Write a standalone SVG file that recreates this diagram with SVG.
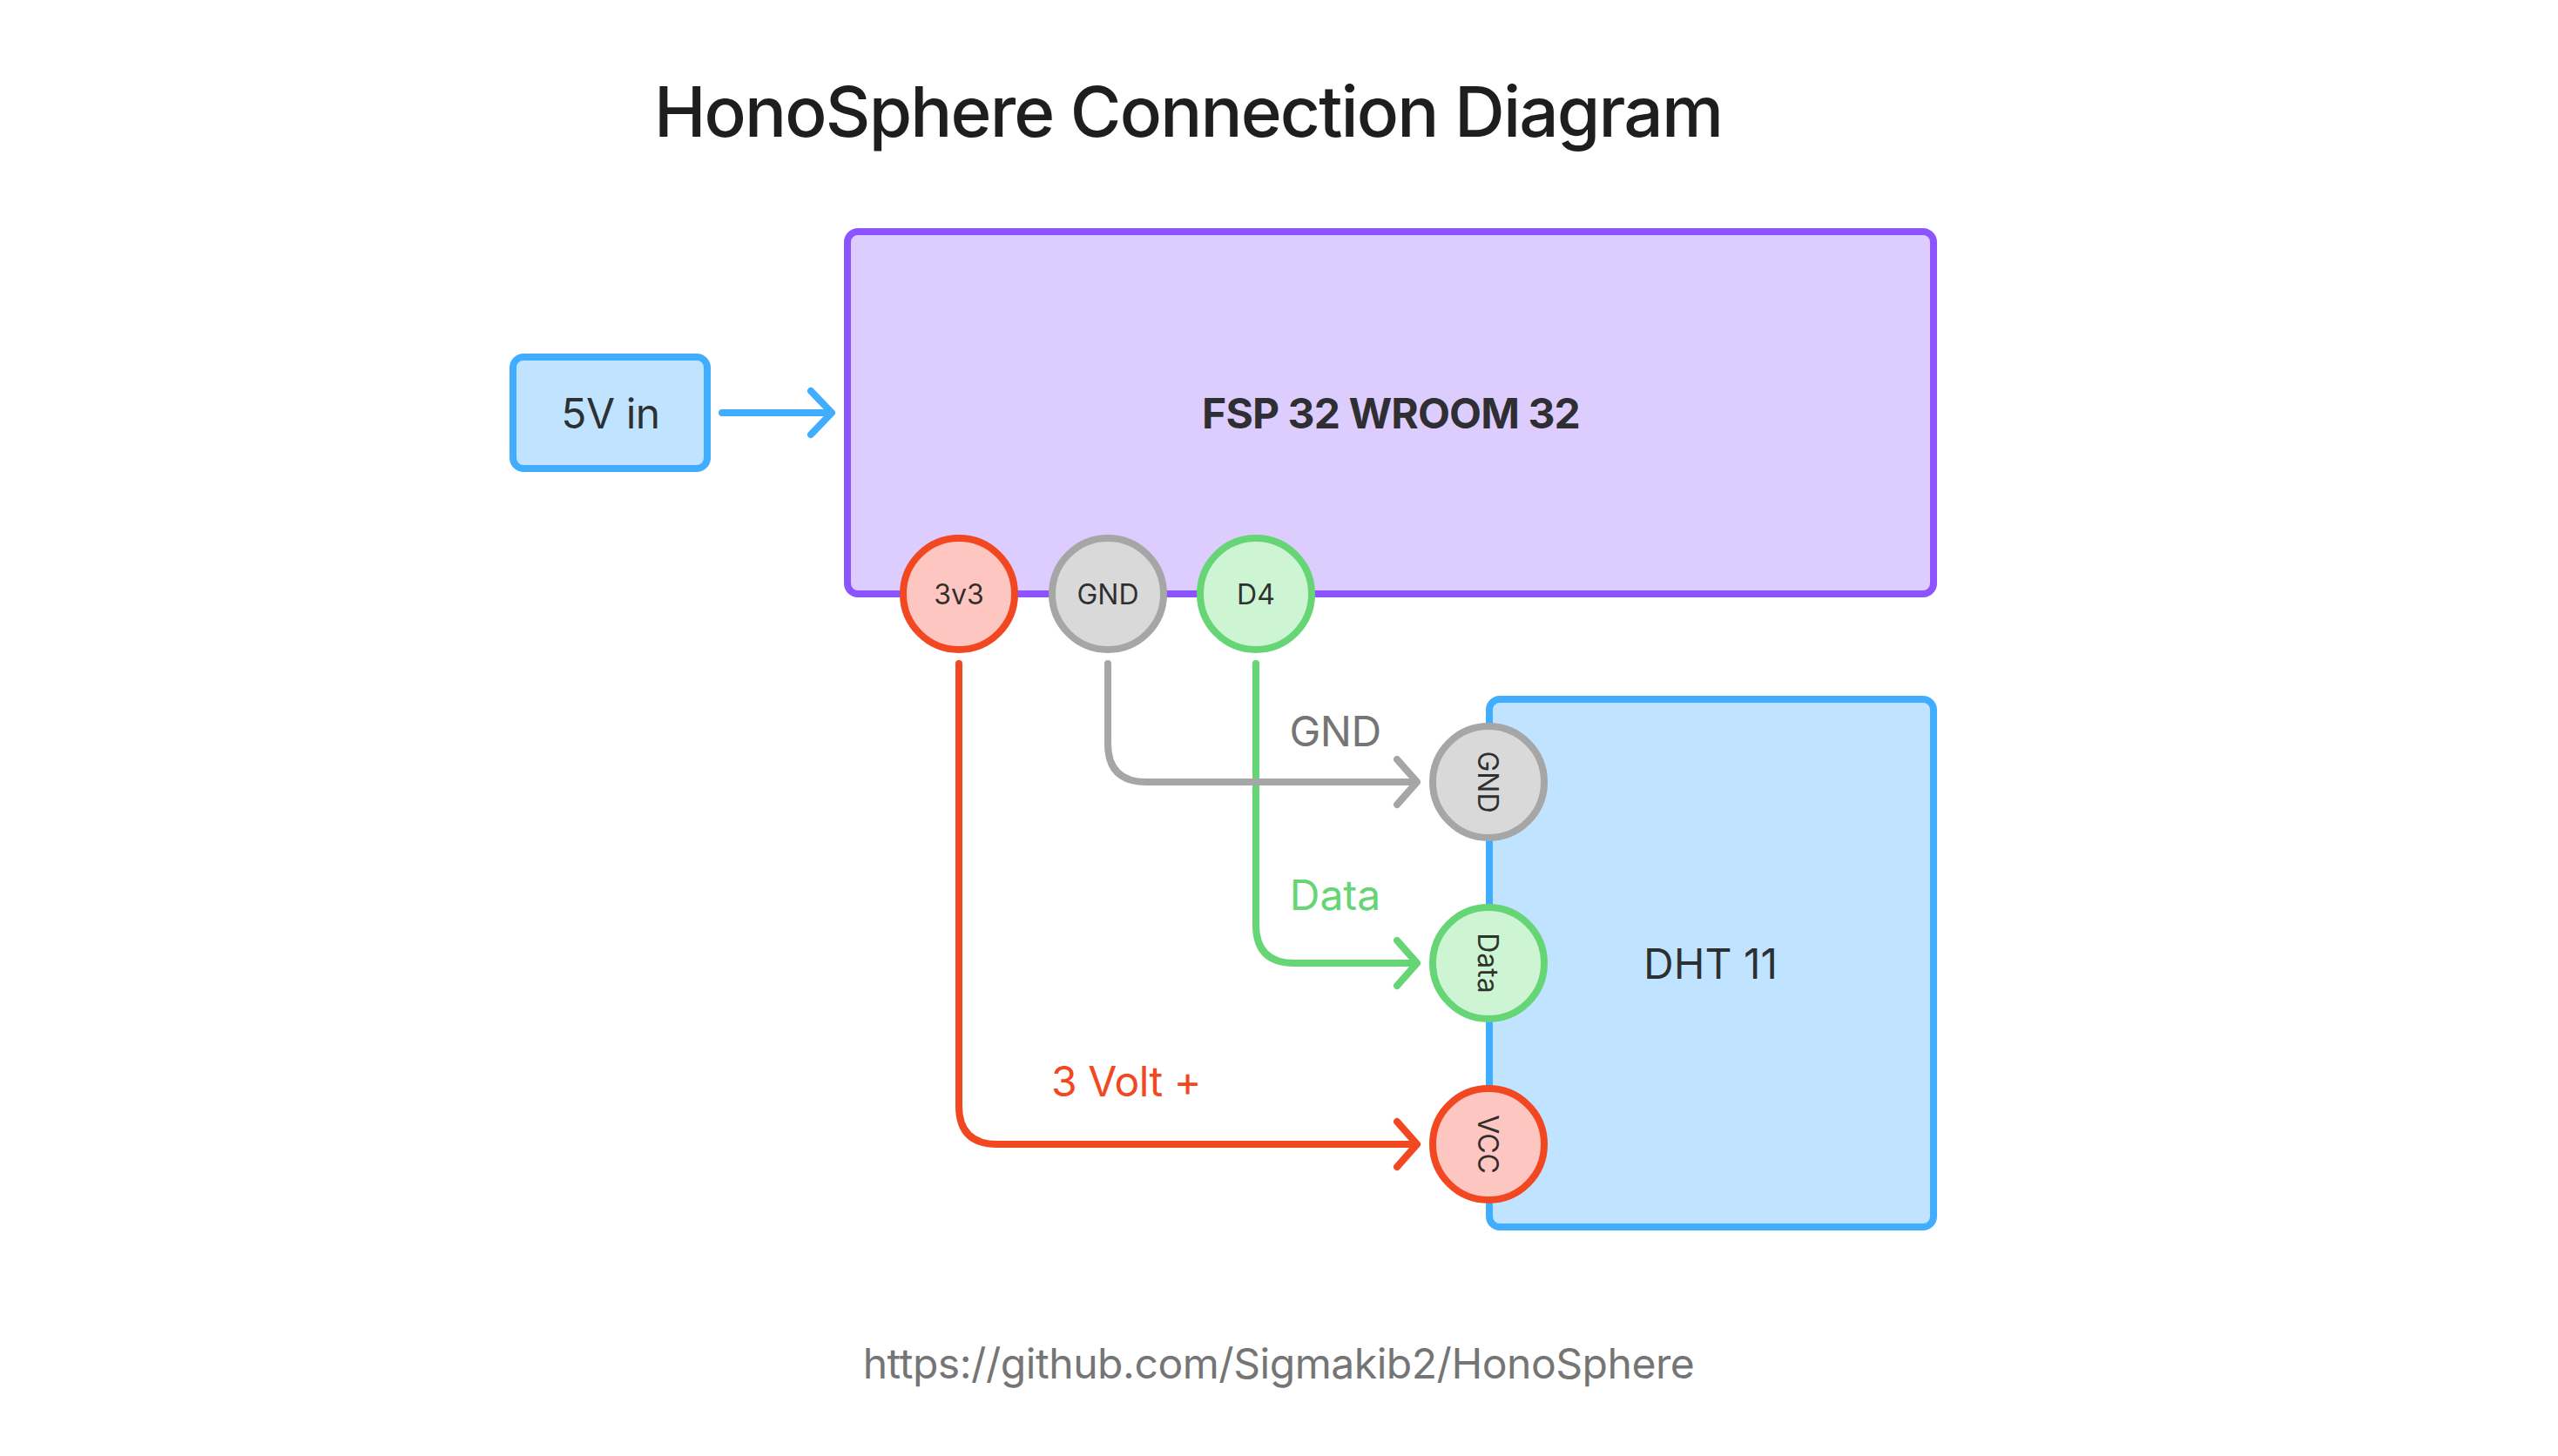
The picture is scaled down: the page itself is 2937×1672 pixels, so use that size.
<svg xmlns="http://www.w3.org/2000/svg" width="2937" height="1672" viewBox="0 0 2937 1672">
<style>
text{font-family:Inter,"Liberation Sans",sans-serif;text-anchor:middle;fill:#1e1e1e}
.b{font-size:48px;letter-spacing:-.5px;fill-opacity:.92}.s{font-size:32px;fill-opacity:.92}
.blue{fill:#c0e4ff;stroke:#40adff;stroke-width:8}
.purple{fill:#ddcdff;stroke:#8b54ff;stroke-width:8}
.pin{stroke-width:8}
.red{fill:#fec6c1;stroke:#f24822}.gray{fill:#d9d9d9;stroke:#a6a6a6}.green{fill:#cdf4d3;stroke:#66d575}
.c{fill:none;stroke-width:8;stroke-linecap:round;stroke-linejoin:round}
</style>
<rect width="2937" height="1672" fill="#ffffff"/>
<text id="title" x="1364" y="157" font-size="80" font-weight="500" letter-spacing="-1.85">HonoSphere Connection Diagram</text>
<text id="url" x="1468" y="1583" font-size="48" letter-spacing="-.45" style="fill:#757575">https://github.com/Sigmakib2/HonoSphere</text>
<g id="node-5v"><rect class="blue" x="589" y="410" width="223" height="128" rx="12"/><text class="b" x="701" y="492">5V in</text></g>
<g id="node-esp"><rect class="purple" x="973" y="266" width="1247" height="416" rx="12"/><text class="b" font-weight="700" x="1597" y="492" style="letter-spacing:-.9px">FSP 32 WROOM 32</text></g>
<g id="node-dht"><rect class="blue" x="1710" y="803" width="510" height="606" rx="12"/><text class="b" x="1964" y="1124" style="letter-spacing:0">DHT 11</text></g>
<g id="connectors">
<path class="c" stroke="#40adff" d="M829 474H954M931 449L955 474L931 499"/>
<path class="c" stroke="#f24822" d="M1101 762V1270Q1101 1314 1145 1314H1626M1604 1288L1627 1314L1604 1340"/>
<path class="c" stroke="#66d575" d="M1442 762V1062Q1442 1106 1486 1106H1626M1604 1080L1627 1106L1604 1132"/>
<path class="c" stroke="#a6a6a6" d="M1272 762V854Q1272 898 1316 898H1626M1604 872L1627 898L1604 924"/>
</g>
<g id="pin-3v3"><circle class="pin red" cx="1101" cy="682" r="64"/><text class="s" x="1101" y="694">3v3</text></g>
<g id="pin-gnd"><circle class="pin gray" cx="1272" cy="682" r="64"/><text class="s" x="1272" y="694">GND</text></g>
<g id="pin-d4"><circle class="pin green" cx="1442" cy="682" r="64"/><text class="s" x="1442" y="694">D4</text></g>
<g id="pin-dht-gnd"><circle class="pin gray" cx="1709" cy="898" r="64"/><text class="s" transform="translate(1709 898) rotate(90)" y="12">GND</text></g>
<g id="pin-dht-data"><circle class="pin green" cx="1709" cy="1106" r="64"/><text class="s" transform="translate(1709 1106) rotate(90)" y="12">Data</text></g>
<g id="pin-dht-vcc"><circle class="pin red" cx="1709" cy="1314" r="64"/><text class="s" transform="translate(1709 1314) rotate(90)" y="12">VCC</text></g>
<text id="label-gnd" class="b" x="1533" y="857" style="fill:#757575;fill-opacity:1">GND</text>
<text id="label-data" class="b" x="1533" y="1045" style="fill:#66d575;fill-opacity:1;letter-spacing:0">Data</text>
<text id="label-3v" class="b" x="1293" y="1259" style="fill:#f24822;fill-opacity:1">3 Volt +</text>
</svg>
